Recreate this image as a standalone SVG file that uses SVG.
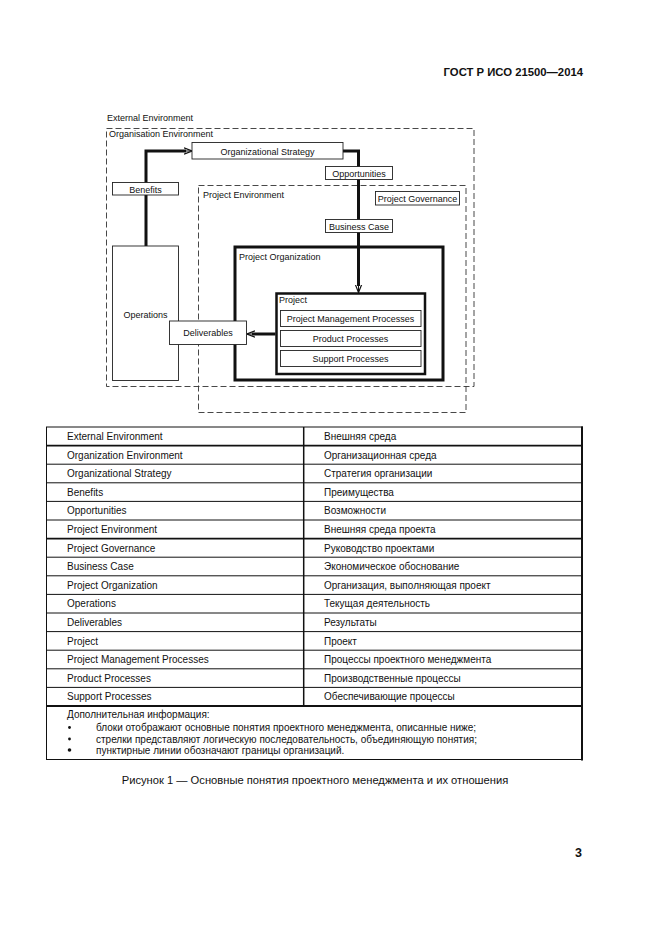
<svg xmlns="http://www.w3.org/2000/svg" width="661" height="935" viewBox="0 0 661 935">
<defs>
<style>
text{font-family:"Liberation Sans",Arial,sans-serif;fill:#111}
.d{font-size:9px}
.t{font-size:10px}
.box{fill:#fff;stroke:#222;stroke-width:0.9}
.dash{fill:none;stroke:#333;stroke-width:0.9;stroke-dasharray:6,3}
.thick{fill:none;stroke:#111;stroke-width:3}
.conn{fill:none;stroke:#111;stroke-width:3}
.tl{stroke:#111;stroke-width:1}
</style>
<marker id="ah" viewBox="0 0 10 10" refX="10" refY="5" markerWidth="8" markerHeight="8" markerUnits="userSpaceOnUse" orient="auto">
<path d="M0,1 L10,5 L0,9" fill="none" stroke="#111" stroke-width="1.5"/>
</marker>
</defs>
<rect width="661" height="935" fill="#fff"/>
<text x="583" y="76" text-anchor="end" style="font-size:11.3px;font-weight:bold">ГОСТ Р ИСО 21500—2014</text>

<g id="external-environment"><text class="d" x="107" y="121">External Environment</text></g>
<g id="organisation-environment"><rect class="dash" x="106.5" y="128.5" width="367.5" height="258"/><text class="d" x="109" y="137">Organisation Environment</text></g>
<g id="project-environment"><rect class="dash" x="198.5" y="185.5" width="267.5" height="227"/><text class="d" x="203" y="198">Project Environment</text></g>

<g id="connectors">
<polyline class="conn" points="146,246 146,151 186,151"/>
<line x1="186" y1="151" x2="192" y2="151" stroke="#111" stroke-width="1" marker-end="url(#ah)"/>
<polyline class="conn" points="343,151 358.5,151 358.5,286"/>
<line x1="358.5" y1="286" x2="358.5" y2="292.5" stroke="#111" stroke-width="1" marker-end="url(#ah)"/>
<line class="conn" x1="275.5" y1="334" x2="252" y2="334"/>
<line x1="252" y1="334" x2="247" y2="334" stroke="#111" stroke-width="1" marker-end="url(#ah)"/>
</g>

<g id="organizational-strategy"><rect class="box" x="192" y="142.5" width="151" height="16.5"/><text class="d" x="267.5" y="154.5" text-anchor="middle">Organizational Strategy</text></g>
<g id="opportunities"><rect class="box" x="325.5" y="166.5" width="67" height="13"/><text class="d" x="359" y="176.5" text-anchor="middle">Opportunities</text></g>
<g id="benefits"><rect class="box" x="112.5" y="182.5" width="66" height="12.5"/><text class="d" x="145.5" y="192.5" text-anchor="middle">Benefits</text></g>
<g id="project-governance"><rect class="box" x="375.5" y="191.5" width="84" height="13.5"/><text class="d" x="417.5" y="201.5" text-anchor="middle">Project Governance</text></g>
<g id="business-case"><rect class="box" x="325.5" y="219.5" width="67" height="13"/><text class="d" x="359" y="229.5" text-anchor="middle">Business Case</text></g>
<g id="operations"><rect class="box" x="112.5" y="246" width="66" height="134.5"/><text class="d" x="145.5" y="318" text-anchor="middle">Operations</text></g>
<g id="project-organization"><rect class="thick" x="235" y="247" width="208" height="133"/><text class="d" x="239" y="260">Project Organization</text></g>
<g id="project"><rect fill="#fff" stroke="#111" stroke-width="2.5" x="276.5" y="293.5" width="148.5" height="80.5"/><text class="d" x="279" y="303">Project</text></g>
<g id="project-management-processes"><rect class="box" x="280.5" y="310.5" width="140.5" height="16"/><text class="d" x="350.5" y="321.5" text-anchor="middle">Project Management Processes</text></g>
<g id="product-processes"><rect class="box" x="280.5" y="330.5" width="140.5" height="16"/><text class="d" x="350.5" y="341.5" text-anchor="middle">Product Processes</text></g>
<g id="support-processes"><rect class="box" x="280.5" y="350.5" width="140.5" height="16"/><text class="d" x="350.5" y="361.5" text-anchor="middle">Support Processes</text></g>
<g id="deliverables"><rect class="box" x="169.5" y="321" width="77" height="23.5"/><text class="d" x="208" y="336" text-anchor="middle">Deliverables</text></g>

<g id="table">
<line class="tl" x1="46.5" y1="427" x2="46.5" y2="760"/>
<line x1="582" y1="426.5" x2="582" y2="760.5" stroke="#111" stroke-width="2"/>
<line class="tl" x1="46" y1="427" x2="583" y2="427"/>
<line class="tl" x1="46" y1="759.5" x2="583" y2="759.5"/>
<line x1="303.7" y1="427" x2="303.7" y2="706" stroke="#111" stroke-width="1.5"/>
<g stroke="#111" stroke-width="1">
<line x1="46" y1="445.6" x2="582" y2="445.6" stroke-width="1.6"/>
<line x1="46" y1="464.2" x2="582" y2="464.2"/>
<line x1="46" y1="482.8" x2="582" y2="482.8"/>
<line x1="46" y1="501.4" x2="582" y2="501.4"/>
<line x1="46" y1="520" x2="582" y2="520"/>
<line x1="46" y1="538.6" x2="582" y2="538.6" stroke-width="1.6"/>
<line x1="46" y1="557.2" x2="582" y2="557.2"/>
<line x1="46" y1="575.8" x2="582" y2="575.8"/>
<line x1="46" y1="594.4" x2="582" y2="594.4"/>
<line x1="46" y1="613" x2="582" y2="613"/>
<line x1="46" y1="631.6" x2="582" y2="631.6"/>
<line x1="46" y1="650.2" x2="582" y2="650.2"/>
<line x1="46" y1="668.8" x2="582" y2="668.8"/>
<line x1="46" y1="687.4" x2="582" y2="687.4"/>
<line x1="46" y1="706" x2="582" y2="706" stroke-width="1.8"/>
</g>
<g>
<text class="t" x="67" y="440">External Environment</text><text class="t" x="324" y="440">Внешняя среда</text>
<text class="t" x="67" y="458.6">Organization Environment</text><text class="t" x="324" y="458.6">Организационная среда</text>
<text class="t" x="67" y="477.2">Organizational Strategy</text><text class="t" x="324" y="477.2">Стратегия организации</text>
<text class="t" x="67" y="495.8">Benefits</text><text class="t" x="324" y="495.8">Преимущества</text>
<text class="t" x="67" y="514.4">Opportunities</text><text class="t" x="324" y="514.4">Возможности</text>
<text class="t" x="67" y="533">Project Environment</text><text class="t" x="324" y="533">Внешняя среда проекта</text>
<text class="t" x="67" y="551.6">Project Governance</text><text class="t" x="324" y="551.6">Руководство проектами</text>
<text class="t" x="67" y="570.2">Business Case</text><text class="t" x="324" y="570.2">Экономическое обоснование</text>
<text class="t" x="67" y="588.8">Project Organization</text><text class="t" x="324" y="588.8">Организация, выполняющая проект</text>
<text class="t" x="67" y="607.4">Operations</text><text class="t" x="324" y="607.4">Текущая деятельность</text>
<text class="t" x="67" y="626">Deliverables</text><text class="t" x="324" y="626">Результаты</text>
<text class="t" x="67" y="644.6">Project</text><text class="t" x="324" y="644.6">Проект</text>
<text class="t" x="67" y="663.2">Project Management Processes</text><text class="t" x="324" y="663.2">Процессы проектного менеджмента</text>
<text class="t" x="67" y="681.8">Product Processes</text><text class="t" x="324" y="681.8">Производственные процессы</text>
<text class="t" x="67" y="700.4">Support Processes</text><text class="t" x="324" y="700.4">Обеспечивающие процессы</text>
</g>
<text class="t" x="67" y="718">Дополнительная информация:</text>
<circle cx="69.5" cy="727.5" r="1.4" fill="#111"/>
<circle cx="69.5" cy="739" r="1.4" fill="#111"/>
<circle cx="69.5" cy="750" r="1.8" fill="#111"/>
<text class="t" x="96" y="731">блоки отображают основные понятия проектного менеджмента, описанные ниже;</text>
<text class="t" x="96" y="742.5">стрелки представляют логическую последовательность, объединяющую понятия;</text>
<text class="t" x="96" y="754">пунктирные линии обозначают границы организаций.</text>
</g>

<text x="315" y="784" text-anchor="middle" style="font-size:11.2px">Рисунок 1 — Основные понятия проектного менеджмента и их отношения</text>
<text x="582" y="857" text-anchor="end" style="font-size:12.5px;font-weight:bold">3</text>
</svg>
